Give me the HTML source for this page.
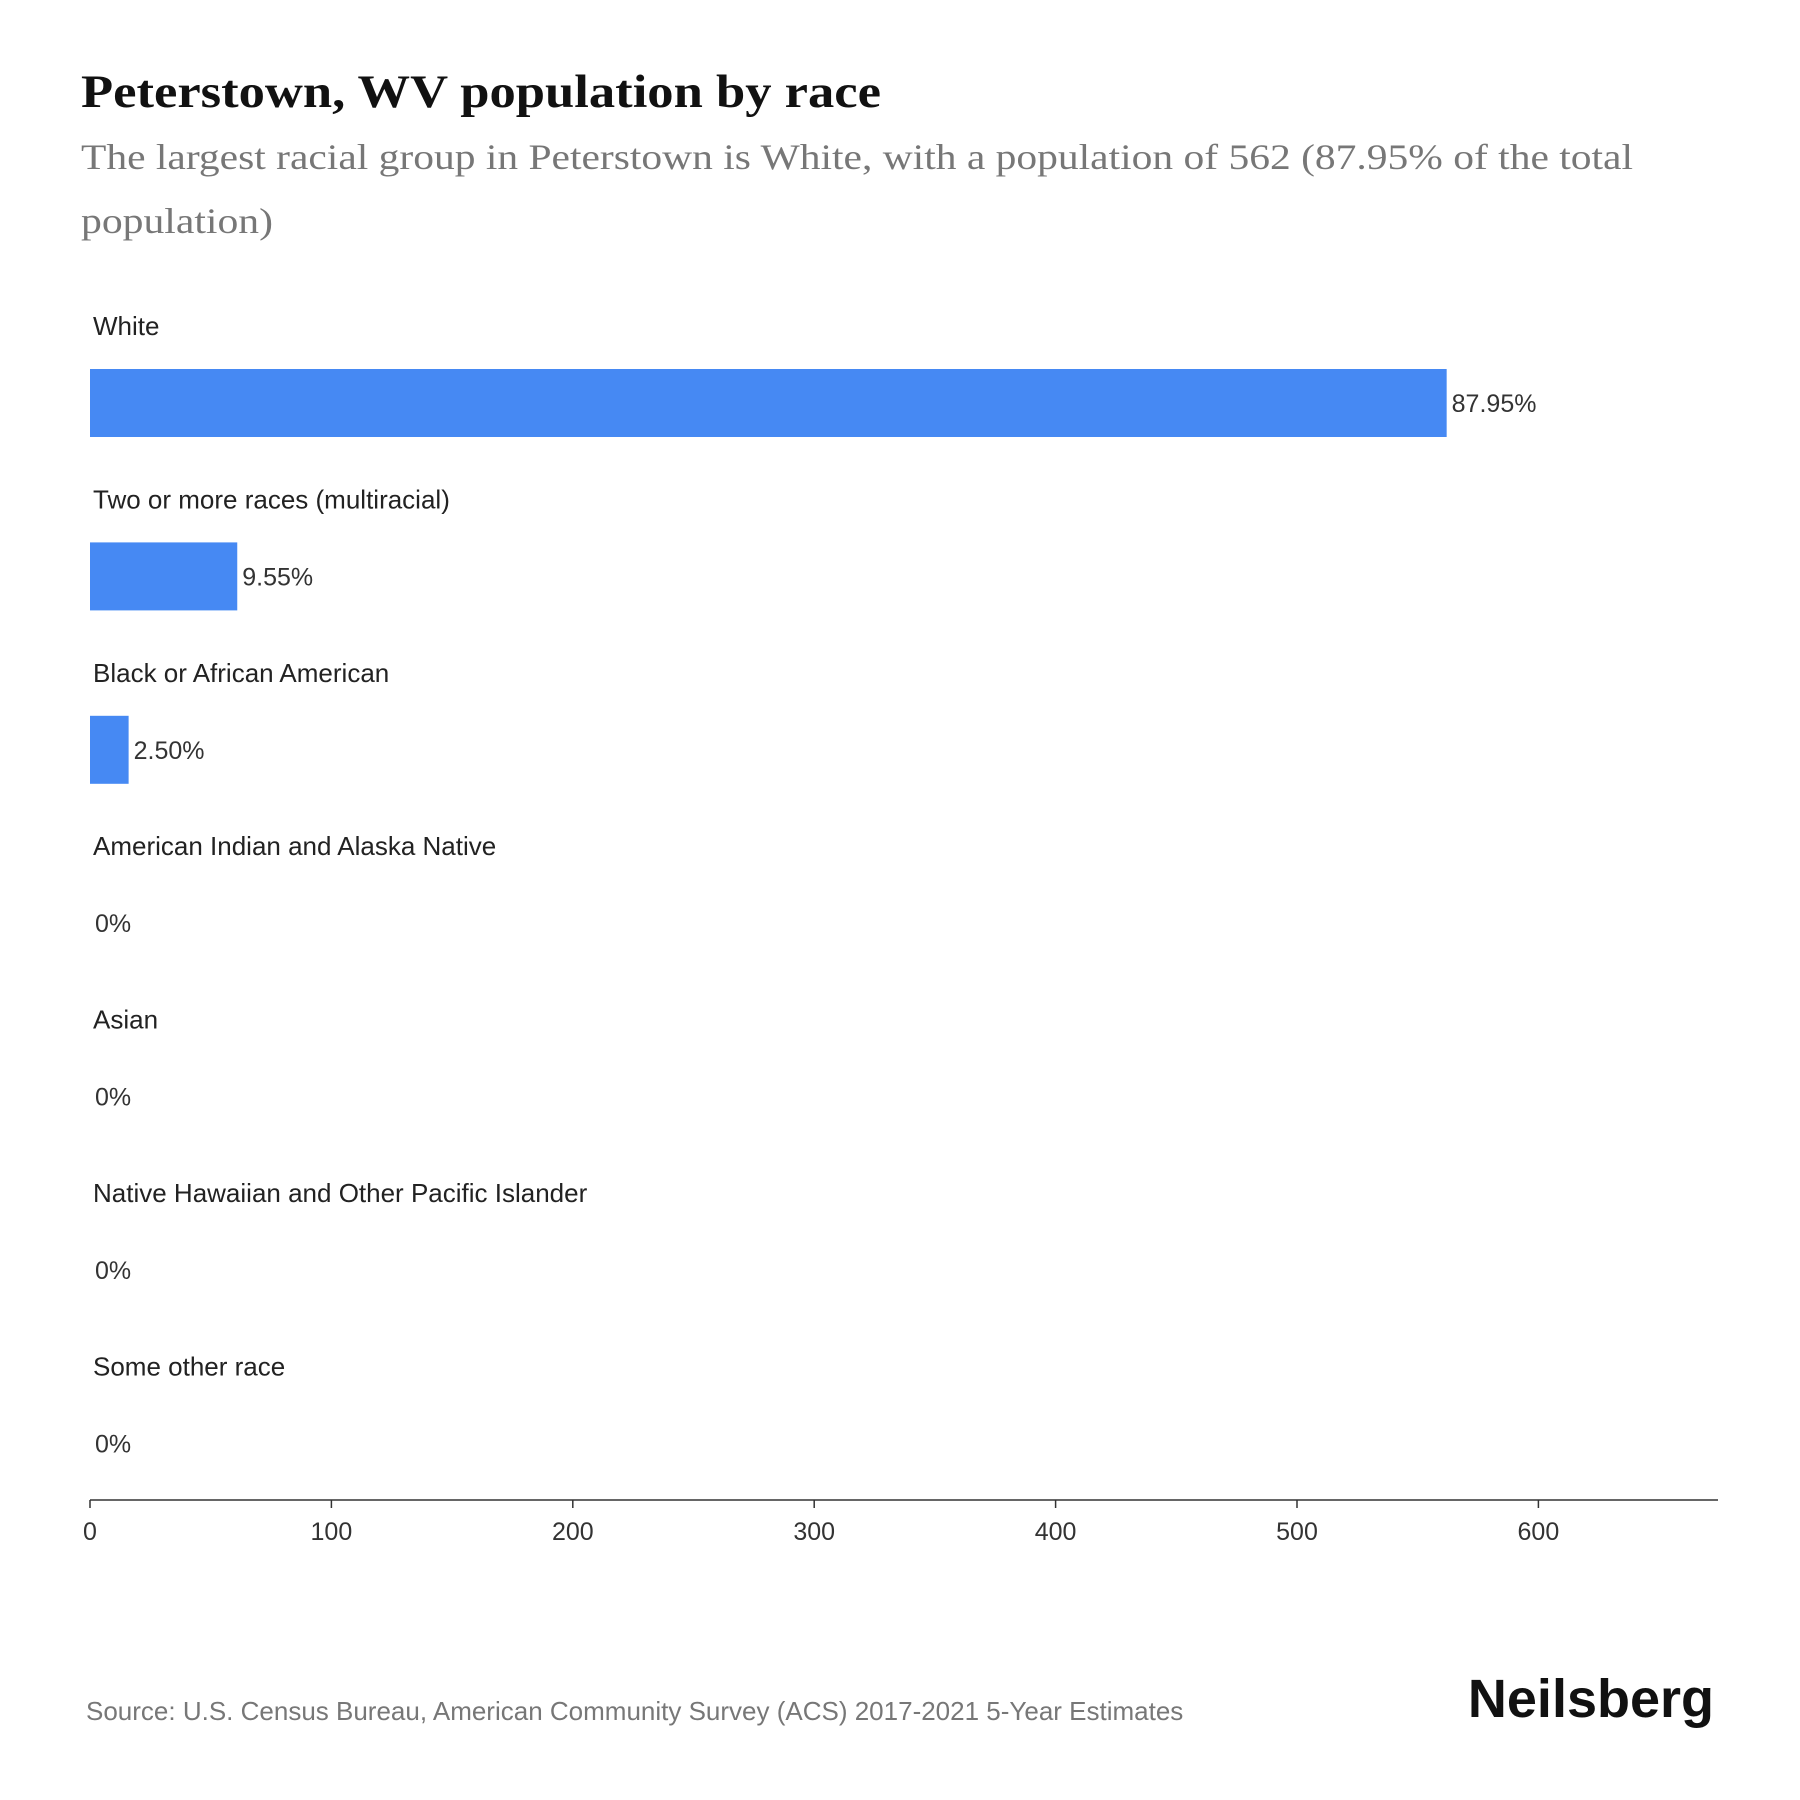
<!DOCTYPE html>
<html><head><meta charset="utf-8"><style>
html,body{margin:0;padding:0;background:#fff;}
svg{display:block;}
</style></head><body>
<svg id="chart" width="1800" height="1800" viewBox="0 0 1800 1800" xmlns="http://www.w3.org/2000/svg">
<text x="81" y="107" textLength="800" lengthAdjust="spacingAndGlyphs" font-family="Liberation Serif, serif" font-weight="bold" font-size="47" fill="#111">Peterstown, WV population by race</text>
<text x="81" y="169" textLength="1552" lengthAdjust="spacingAndGlyphs" font-family="Liberation Serif, serif" font-size="36" fill="#777">The largest racial group in Peterstown is White, with a population of 562 (87.95% of the total</text>
<text x="81" y="233" textLength="192" lengthAdjust="spacingAndGlyphs" font-family="Liberation Serif, serif" font-size="36" fill="#777">population)</text>
<g id="bars"></g>
<g id="axis"></g>
<text x="86" y="1720" font-family="Liberation Sans, sans-serif" font-size="26" fill="#777">Source: U.S. Census Bureau, American Community Survey (ACS) 2017-2021 5-Year Estimates</text>
<text x="1714" y="1717" text-anchor="end" font-family="Liberation Sans, sans-serif" font-weight="bold" font-size="54" fill="#111">Neilsberg</text>
</svg>
<script>
const categories=["White","Two or more races (multiracial)","Black or African American","American Indian and Alaska Native","Asian","Native Hawaiian and Other Pacific Islander","Some other race"];
const values=[562,61,16,0,0,0,0];
const valueLabels=["87.95%","9.55%","2.50%","0%","0%","0%","0%"];
const ticks=[0,100,200,300,400,500,600];
const NS="http://www.w3.org/2000/svg";
const x0=90,pxPer=2.414,rowTop=326,rowStep=173.4,axisY=1500,axisEnd=1718;
const xs=v=>x0+v*pxPer;
function mk(t,a,p){const e=document.createElementNS(NS,t);for(const k in a)e.setAttribute(k,a[k]);p.appendChild(e);return e;}
const bars=document.getElementById('bars');
categories.forEach((c,i)=>{
  const y=rowTop+i*rowStep;
  const l=mk('text',{x:93,y:y+9,'font-family':'Liberation Sans, sans-serif','font-size':26,fill:'#222'},bars);
  l.textContent=c;
  
  
  const w=Math.max(xs(values[i])-x0,0);
  const r=mk('rect',{x:x0,y:y+43,width:w,height:68,fill:'#4689f3'},bars);
  
  
  const v=mk('text',{x:x0+w+5,y:y+86,'font-family':'Liberation Sans, sans-serif','font-size':25,fill:'#333'},bars);
  v.textContent=valueLabels[i];
  
  
});
const ax=document.getElementById('axis');
const line=mk('line',{x1:x0,y1:axisY,x2:axisEnd,y2:axisY,stroke:'#333','stroke-width':1.5},ax);


ticks.forEach(t=>{
  const x=xs(t);
  const tk=mk('line',{x1:x,y1:axisY,x2:x,y2:axisY+8,stroke:'#333','stroke-width':1.5},ax);
  
  
  const tl=mk('text',{x:x,y:axisY+40,'text-anchor':'middle','font-family':'Liberation Sans, sans-serif','font-size':25,fill:'#333'},ax);
  tl.textContent=t;
  
  
});
</script>
</body></html>
